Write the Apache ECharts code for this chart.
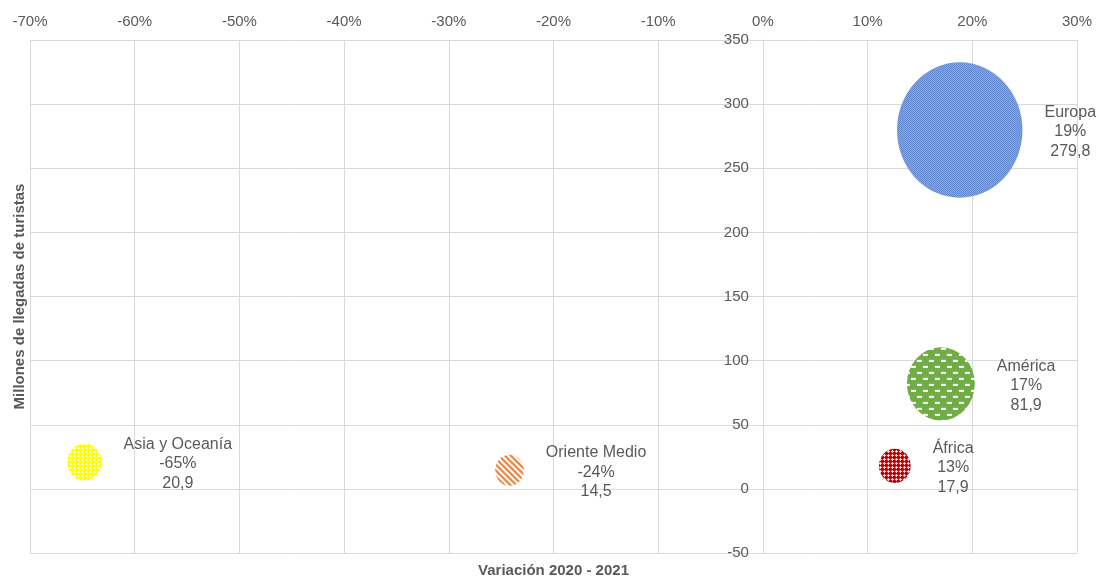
<!DOCTYPE html>
<html lang="es" style="height: 100%">
<head>
  <meta charset="utf-8">
</head>
<body style="height: 100%; margin: 0; background: #fff">
  <div id="container" style="width: 1099px; height: 579px"></div>

  <script type="text/javascript" src="https://cdn.jsdelivr.net/npm/echarts@6/dist/echarts.min.js"></script>

  <script type="text/javascript">
const regions = ['Europa', 'América', 'África', 'Asia y Oceanía', 'Oriente Medio'];
// variación 2020 - 2021, en %
const variation = [18.8, 17.0, 12.6, -64.8, -24.2];
// millones de llegadas de turistas
const arrivals = [279.8, 81.9, 17.9, 20.9, 14.5];

const xMin = -70, xMax = 30, xStep = 10;
const yMin = -50, yMax = 350, yStep = 50;

const textColor = '#595959';
const gridColor = '#d9d9d9';
const fontFamily = '"Liberation Sans", Arial, sans-serif';
const gridBox = { left: 30, right: 22, top: 40, bottom: 26 };

// small repeating tiles, like the Excel pattern fills
function makeTile(w, h, bg, fg, isFg) {
  var c = document.createElement('canvas');
  c.width = w; c.height = h;
  var g = c.getContext('2d');
  g.fillStyle = bg;
  g.fillRect(0, 0, w, h);
  g.fillStyle = fg;
  for (var y = 0; y < h; y++) {
    for (var x = 0; x < w; x++) {
      if (isFg(x, y)) g.fillRect(x, y, 1, 1);
    }
  }
  return c;
}

const tiles = [
  // Europa: fine checker
  makeTile(2, 2, '#4472c4', 'rgba(255,255,255,0.55)', function (x, y) { return (x + y) % 2 === 1; }),
  // América: staggered white dashes
  makeTile(12, 12, '#70ad47', '#ffffff', function (x, y) {
    return (y < 2 && x < 5) || (y >= 6 && y < 8 && x >= 6 && x < 11);
  }),
  // África: small white crosses
  makeTile(4, 4, '#c00000', 'rgba(255,255,255,0.9)', function (x, y) {
    return (x === 1 && y <= 2) || (y === 1 && x <= 2);
  }),
  // Asia y Oceanía: white dots
  makeTile(4, 4, '#ffff00', '#ffffff', function (x, y) { return x >= 1 && x <= 2 && y >= 1 && y <= 2; }),
  // Oriente Medio: wide diagonal stripes
  makeTile(6, 6, '#ed7d31', '#ffffff', function (x, y) { return ((x - y) % 6 + 6) % 6 < 3; })
];

var ctx = document.createElement('canvas').getContext('2d');
ctx.font = '16px ' + fontFamily;

function fmt(v) {
  return String(v).replace('.', ',');
}

var data = regions.map(function (name, i) {
  var r = Math.sqrt(arrivals[i]);
  var w = 7.5 * r, h = 8.1 * r;
  var lines = [name, Math.round(variation[i]) + '%', fmt(arrivals[i])];
  var tw = Math.max.apply(null, lines.map(function (s) { return ctx.measureText(s).width; }));
  return {
    name: name,
    value: [variation[i], arrivals[i]],
    symbolSize: [w, h],
    // the symbol path is a unit shape scaled by size/2, so undo that for the tile
    itemStyle: { color: { image: tiles[i], repeat: 'repeat', scaleX: 2 / w, scaleY: 2 / h } },
    label: { offset: [w / 2 + 22 + tw / 2, 2] }
  };
});

// the vertical axis crosses at 0 %
var plotW = 1099 - gridBox.left - gridBox.right;
var zeroLeft = gridBox.left + (0 - xMin) / (xMax - xMin) * plotW;

var dom = document.getElementById('container');
var myChart = echarts.init(dom, null, { renderer: 'canvas' });

var option = {
  animation: false,
  grid: [
    Object.assign({ outerBoundsMode: 'none', containLabel: false }, gridBox),
    { left: zeroLeft, right: gridBox.right, top: gridBox.top, bottom: gridBox.bottom, outerBoundsMode: 'none', containLabel: false }
  ],
  xAxis: [
    {
      type: 'value',
      gridIndex: 0,
      position: 'top',
      min: xMin,
      max: xMax,
      interval: xStep,
      axisLine: { show: false, onZero: false },
      axisTick: { show: false },
      axisLabel: {
        formatter: '{value}%',
        color: textColor,
        fontSize: 15,
        fontFamily: fontFamily,
        margin: 11
      },
      splitLine: { lineStyle: { color: gridColor } }
    },
    {
      type: 'value',
      gridIndex: 0,
      position: 'bottom',
      min: xMin,
      max: xMax,
      interval: xStep,
      axisLine: { show: false, onZero: false },
      axisTick: { show: false },
      axisLabel: { show: false },
      splitLine: { show: false },
      name: 'Variación 2020 - 2021',
      nameLocation: 'middle',
      nameGap: 10,
      nameTextStyle: { color: textColor, fontSize: 15, fontWeight: 'bold', fontFamily: fontFamily }
    },
    {
      type: 'value',
      gridIndex: 1,
      min: 0,
      max: xMax,
      show: false
    }
  ],
  yAxis: [
    {
      type: 'value',
      gridIndex: 0,
      min: yMin,
      max: yMax,
      interval: yStep,
      axisLine: { show: false, onZero: false },
      axisTick: { show: false },
      axisLabel: { show: false },
      splitLine: { lineStyle: { color: gridColor } },
      name: 'Millones de llegadas de turistas',
      nameLocation: 'middle',
      nameGap: 3,
      nameTextStyle: { color: textColor, fontSize: 15, fontWeight: 'bold', fontFamily: fontFamily }
    },
    {
      type: 'value',
      gridIndex: 1,
      position: 'left',
      min: yMin,
      max: yMax,
      interval: yStep,
      axisLine: { show: true, onZero: false, lineStyle: { color: gridColor } },
      axisTick: { show: false },
      axisLabel: { color: textColor, fontSize: 15, fontFamily: fontFamily, margin: 14 },
      splitLine: { show: false }
    }
  ],
  series: [
    {
      type: 'scatter',
      xAxisIndex: 0,
      yAxisIndex: 0,
      data: data,
      itemStyle: { opacity: 1 },
      label: {
        show: true,
        position: 'inside',
        align: 'center',
        verticalAlign: 'middle',
        color: textColor,
        fontSize: 16,
        fontFamily: fontFamily,
        lineHeight: 19.5,
        formatter: function (p) {
          return p.name + '\n' + Math.round(p.value[0]) + '%\n' + fmt(p.value[1]);
        }
      },
      emphasis: { disabled: true }
    }
  ]
};

myChart.setOption(option);
window.addEventListener('resize', myChart.resize);
  </script>
</body>
</html>
